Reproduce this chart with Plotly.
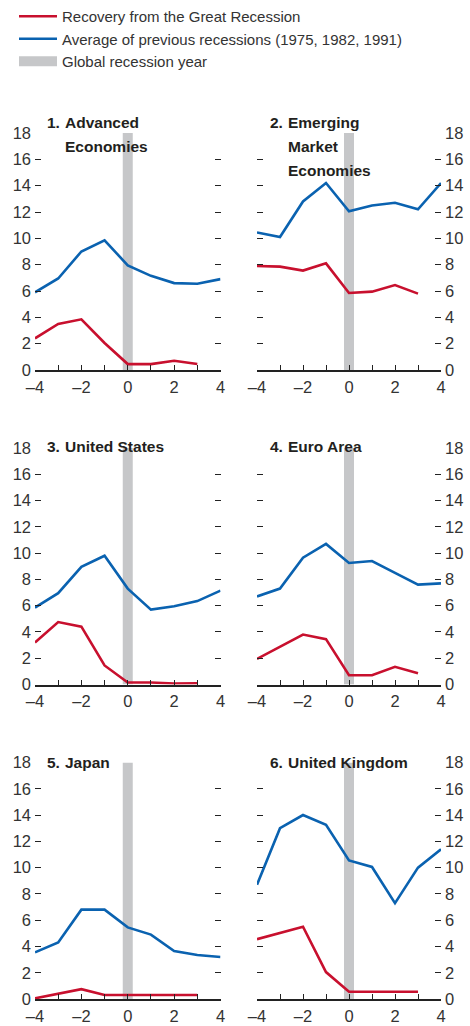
import plotly.graph_objects as go

# years relative to the global recession year
years = [-4, -3, -2, -1, 0, 1, 2, 3, 4]
recovery_years = [-4, -3, -2, -1, 0, 1, 2, 3]
y_ticks = [0, 2, 4, 6, 8, 10, 12, 14, 16, 18]
x_tick_text = ["–4", "", "–2", "", "0", "", "2", "", "4"]

adv_recovery = [2.4, 3.5, 3.85, 2.05, 0.45, 0.45, 0.7, 0.45]
adv_previous = [5.9, 6.95, 9.0, 9.85, 7.95, 7.15, 6.6, 6.55, 6.9]
em_recovery = [7.9, 7.85, 7.55, 8.1, 5.85, 5.95, 6.45, 5.8]
em_previous = [10.45, 10.1, 12.8, 14.2, 12.05, 12.5, 12.7, 12.2, 14.2]
us_recovery = [3.2, 4.75, 4.4, 1.45, 0.15, 0.15, 0.08, 0.1]
us_previous = [5.85, 6.95, 8.95, 9.8, 7.3, 5.7, 5.95, 6.35, 7.15]
ea_recovery = [1.95, 2.9, 3.8, 3.45, 0.7, 0.7, 1.35, 0.85]
ea_previous = [6.7, 7.3, 9.65, 10.7, 9.25, 9.4, 8.5, 7.6, 7.7]
jp_recovery = [0.05, 0.4, 0.75, 0.3, 0.3, 0.3, 0.3, 0.3]
jp_previous = [3.55, 4.3, 6.8, 6.8, 5.45, 4.9, 3.65, 3.35, 3.2]
uk_recovery = [4.55, 5.05, 5.5, 2.05, 0.55, 0.55, 0.55, 0.55]
uk_previous = [8.7, 13.0, 14.0, 13.25, 10.55, 10.05, 7.3, 10.0, 11.4]

recession_x = [0, 0]
recession_y = [0, 18]

numbers = ["1.", "2.", "3.", "4.", "5.", "6."]
titles = [["Advanced", "Economies"], ["Emerging", "Market", "Economies"],
          ["United States"], ["Euro Area"], ["Japan"], ["United Kingdom"]]
recoveries = [adv_recovery, em_recovery, us_recovery, ea_recovery, jp_recovery, uk_recovery]
previous = [adv_previous, em_previous, us_previous, ea_previous, jp_previous, uk_previous]

RED = "#c8102e"
BLUE = "#0a62b0"
GREY = "#c6c7c9"
FONT = "Liberation Sans, Arial, sans-serif"
W, H = 470, 1026

col_x = [(35, 220.5), (257, 441)]
row_y = [(133, 370), (448, 684.5), (762.5, 999)]
title_mid = [122, 447, 762]
num_x = [(45, 63), (268, 286)]

fig = go.Figure()
layout = {}
annotations = []

for i in range(6):
    r, c = divmod(i, 2)
    n = "" if i == 0 else str(i + 1)
    xa, ya = "x" + n, "y" + n
    show = i == 0
    fig.add_trace(go.Scatter(
        x=recession_x, y=recession_y, mode="lines", xaxis=xa, yaxis=ya,
        line=dict(color=GREY, width=10), name="Global recession year",
        showlegend=show, legendrank=3, hoverinfo="skip"))
    fig.add_trace(go.Scatter(
        x=years, y=previous[i], mode="lines", xaxis=xa, yaxis=ya,
        line=dict(color=BLUE, width=2.6),
        name="Average of previous recessions (1975, 1982, 1991)",
        showlegend=show, legendrank=2))
    fig.add_trace(go.Scatter(
        x=recovery_years, y=recoveries[i], mode="lines", xaxis=xa, yaxis=ya,
        line=dict(color=RED, width=2.6), name="Recovery from the Great Recession",
        showlegend=show, legendrank=1))

    x0, x1 = col_x[c]
    y0, y1 = row_y[r]
    layout["xaxis" + n] = dict(
        domain=[x0 / W, x1 / W], anchor=ya, range=[-4, 4], automargin=False,
        tickvals=years, ticktext=x_tick_text, ticks="inside", ticklen=5,
        tickwidth=1.3, tickcolor="#222", showline=True, linecolor="#222",
        linewidth=1.5, showgrid=False, zeroline=False, ticklabelstandoff=1,
        tickfont=dict(size=16.5, color="#333", family=FONT))
    layout["yaxis" + n] = dict(
        domain=[1 - y1 / H, 1 - y0 / H], anchor=xa, range=[0, 18], automargin=False,
        tickvals=y_ticks, ticks="inside", ticklen=6, tickwidth=1.2,
        tickcolor="#222", mirror="ticks", showline=False, showgrid=False,
        zeroline=False, side="left" if c == 0 else "right", ticklabelstandoff=3,
        tickfont=dict(size=16.5, color="#333", family=FONT))

    nx, tx = num_x[c]
    parts = [(numbers[i], nx, 0)] + [(t, tx, k) for k, t in enumerate(titles[i])]
    for text, px, k in parts:
        annotations.append(dict(
            text="<b>" + text + "</b>", xref="paper", yref="paper",
            x=px / W, y=1 - (title_mid[r] + 24 * k) / H,
            xanchor="left", yanchor="middle", showarrow=False,
            font=dict(size=15.5, color="#231f20", family=FONT)))

fig.update_layout(
    **layout,
    annotations=annotations,
    width=W, height=H, autosize=False,
    margin=dict(l=0, r=0, t=0, b=0, autoexpand=False),
    paper_bgcolor="white", plot_bgcolor="white",
    font=dict(family=FONT, size=15, color="#333"),
    legend=dict(x=14 / W, y=1, xanchor="left", yanchor="top",
                bgcolor="rgba(0,0,0,0)", tracegroupgap=0, itemwidth=38,
                font=dict(size=15, color="#333", family=FONT)),
)

fig.write_html("out.html", config={"displayModeBar": False},
               post_script="document.body.style.margin = '0';")
